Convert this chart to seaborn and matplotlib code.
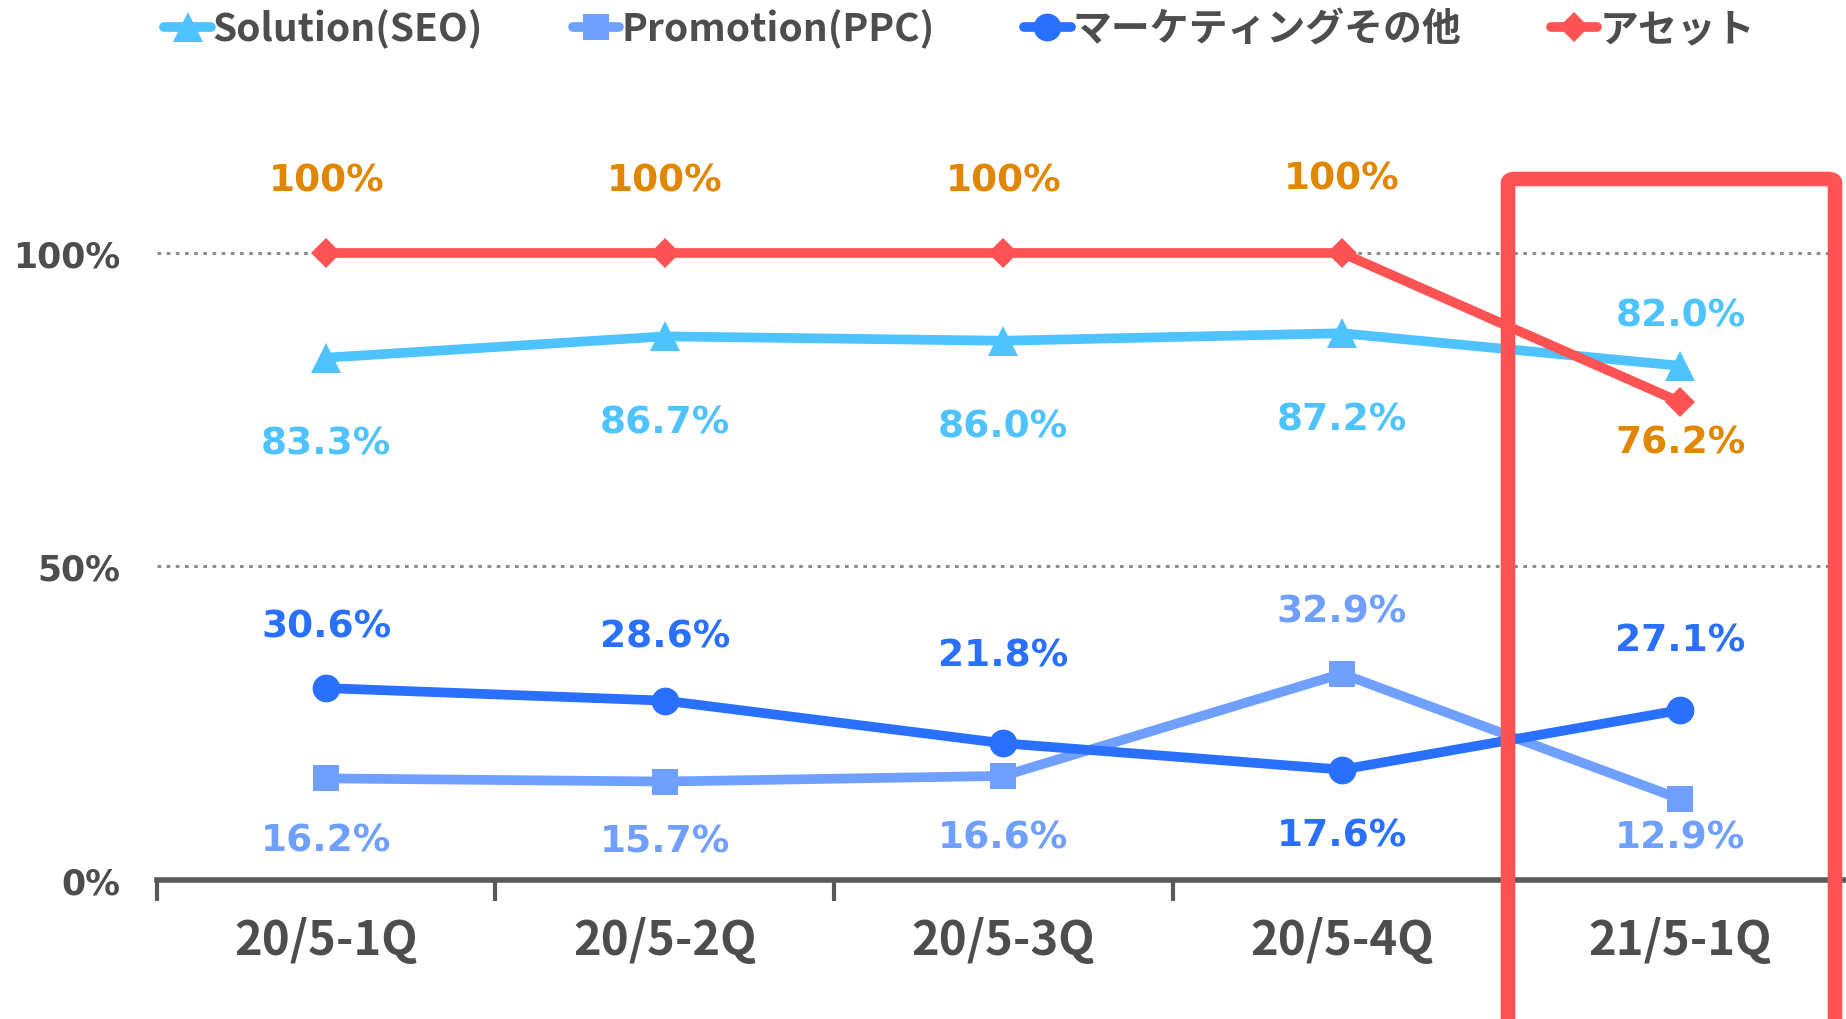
import matplotlib
matplotlib.use("Agg")
import matplotlib.pyplot as plt
import seaborn as sns
import pandas as pd
from matplotlib.lines import Line2D
from matplotlib.patches import FancyBboxPatch

categories = ["20/5-1Q", "20/5-2Q", "20/5-3Q", "20/5-4Q", "21/5-1Q"]
series_names = ["Solution(SEO)", "Promotion(PPC)", "マーケティングその他", "アセット"]
seo = [83.3, 86.7, 86.0, 87.2, 82.0]
ppc = [16.2, 15.7, 16.6, 32.9, 12.9]
mkt = [30.6, 28.6, 21.8, 17.6, 27.1]
asset = [100, 100, 100, 100, 76.2]
yticks = [0, 50, 100]
ytick_labels = ["0%", "50%", "100%"]

# style
colors = ["#4FC3FF", "#6F9FFF", "#2970FF", "#FF5252"]
label_colors = ["#4FC3FF", "#6F9FFF", "#2970FF", "#E08600"]
markers = ["^", "s", "o", "D"]
msizes = [21, 19, 20, 15]
# label pixel offsets (vertical) per series per point
label_offsets = [
    [-86, -86, -86, -86, 50],
    [-62, -60, -62, 62, -38],
    [62, 64, 88, -66, 70],
    [72, 72, 72, 74, -40],
]
label_fmt = [
    ["{:.1f}%"] * 5,
    ["{:.1f}%"] * 5,
    ["{:.1f}%"] * 5,
    ["{:.0f}%"] * 4 + ["{:.1f}%"],
]
TXT = "#4D4D4D"

sns.set_theme(style="white")
plt.rcParams['font.family'] = ['DejaVu Sans', 'Noto Sans CJK JP']

fig = plt.figure(figsize=(18.46, 10.2), dpi=100)
ax = fig.add_axes([0.085, 0.1363, 0.917, (0.751 - 0.1363) * 1.2])

all_vals = [seo, ppc, mkt, asset]
pos = list(range(len(categories)))
for i, (name, vals) in enumerate(zip(series_names, all_vals)):
    df = pd.DataFrame({"x": pos, "y": [v / 100 for v in vals]})
    sns.lineplot(data=df, x="x", y="y", ax=ax, color=colors[i], lw=7,
                 marker=markers[i], markersize=msizes[i], markeredgewidth=0,
                 solid_capstyle="round", solid_joinstyle="round", zorder=3 + i,
                 clip_on=False)
    for j, v in enumerate(vals):
        ax.annotate(label_fmt[i][j].format(v), (j, v / 100),
                    xytext=(0, label_offsets[i][j]), textcoords="offset pixels",
                    ha="center", va="center", fontsize=27, fontweight="bold",
                    color=label_colors[i], family="DejaVu Sans", annotation_clip=False)

ax.set_xlim(-0.5, 4.5)
ax.set_ylim(0, 1.2)
ax.set_xlabel("")
ax.set_ylabel("")
for y in [0.5, 1.0]:
    ax.axhline(y, color="#8C8C8C", lw=2.2, ls=(0, (1.2, 1.8)), zorder=1,
               xmax=0.99)

ax.set_yticks([v / 100 for v in yticks])
ax.set_yticklabels(ytick_labels, fontsize=25, fontweight="bold", color=TXT,
                   family="DejaVu Sans")
ax.tick_params(axis="y", length=0, pad=26)

ax.set_xticks(pos)
ax.set_xticklabels(categories, fontsize=34, fontweight="bold", color=TXT,
                   family=["Noto Sans CJK JP"])
ax.tick_params(axis="x", which="major", length=0, pad=26)
ax.set_xticks([p - 0.5 for p in pos] + [4.5], minor=True)
ax.tick_params(axis="x", which="minor", length=15, width=3, color="#595959",
               direction="out", bottom=True)

for s in ["top", "right", "left"]:
    ax.spines[s].set_visible(False)
ax.spines["bottom"].set_color("#595959")
ax.spines["bottom"].set_linewidth(4)

# highlight box
box = FancyBboxPatch((1508 / 1846, -0.05), (1835 - 1508) / 1846, (1020 - 180) / 1020 + 0.05,
                     boxstyle="round,pad=0,rounding_size=0.004",
                     transform=fig.transFigure, fill=False, ec="#FF5252", lw=10.5,
                     zorder=10, clip_on=False)
fig.patches.append(box)

handles = [Line2D([0], [0], color=colors[i], lw=7, marker=markers[i],
                  markersize=msizes[i], markeredgewidth=0, solid_capstyle="round")
           for i in range(4)]
leg = fig.legend(handles, series_names, loc="center left", bbox_to_anchor=(0.07, 0.971),
                 ncol=4, frameon=False, handlelength=1.2, handletextpad=0.05,
                 columnspacing=2.3,
                 prop={"family": ["Noto Sans CJK JP"], "weight": "bold", "size": 28})
for t in leg.get_texts():
    t.set_color(TXT)

fig.savefig("out.png", dpi=100)
